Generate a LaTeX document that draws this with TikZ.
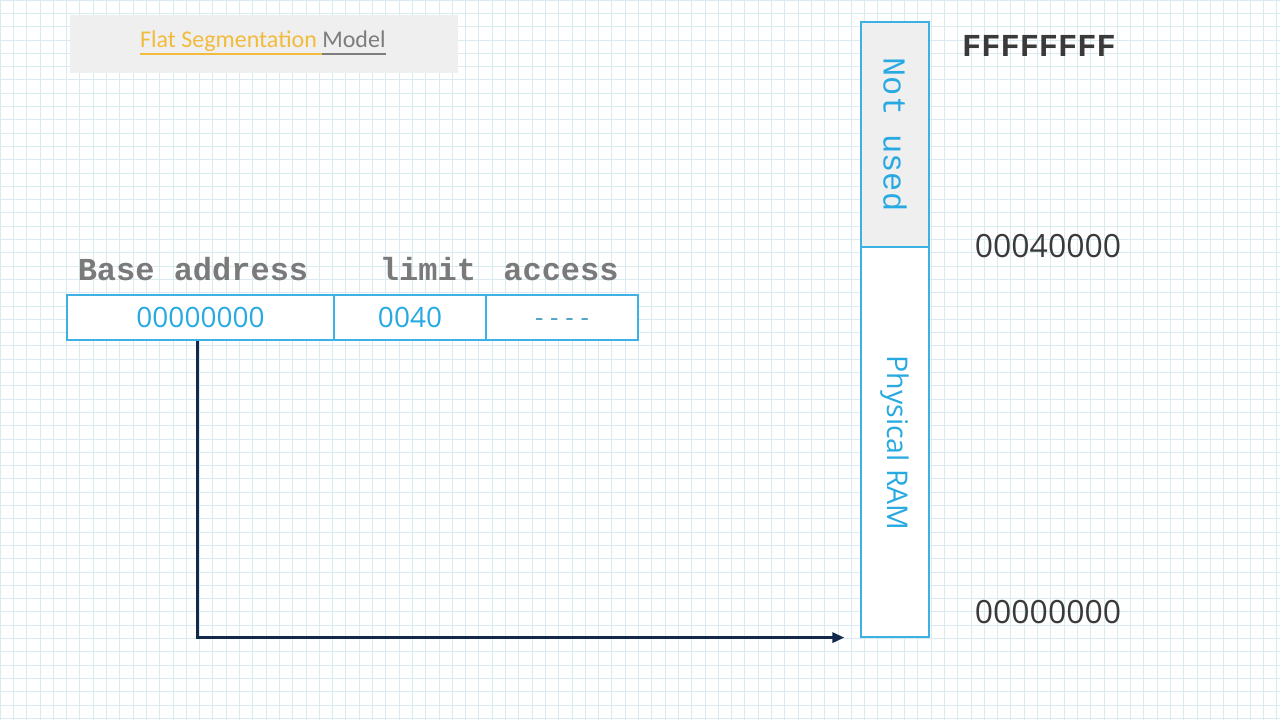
\documentclass[tikz,border=0pt]{standalone}
\usepackage{fontspec}
\setmainfont{Open Sans}
\newfontfamily\typefont{Liberation Mono}
\newfontfamily\titlefont{Carlito}
\usepackage{tikz}
\usetikzlibrary{arrows.meta}

\definecolor{gridblue}{HTML}{D9EAF1}
\definecolor{cellblue}{HTML}{3DB1E3}
\definecolor{textblue}{HTML}{27A9E1}
\definecolor{headgray}{HTML}{7A7A7A}
\definecolor{darkgray}{HTML}{3A3A3A}
\definecolor{titleyellow}{HTML}{F2BB3C}
\definecolor{titlegray}{HTML}{7D7D7D}
\definecolor{boxgray}{HTML}{EFEFEF}
\definecolor{navy}{HTML}{13294B}

\tikzset{
  cell/.style={draw=cellblue,line width=1.2pt,fill=white,minimum height=45pt,inner sep=0pt,
    text=textblue,font={\fontsize{28}{32}\selectfont}},
  head/.style={anchor=base,text=headgray,font={\typefont\bfseries\fontsize{32}{36}\selectfont}},
  addr/.style={text=darkgray,font={\fontsize{32}{36}\selectfont}},
  ramcell/.style={draw=cellblue,line width=1.2pt,minimum width=68pt,inner sep=0pt},
  titletext/.style={anchor=base west,inner sep=0pt,font={\titlefont\fontsize{24}{28}\selectfont}},
  link/.style={navy,line width=3pt,-{Triangle[length=12pt,width=10pt]}}
}

\begin{document}
\begin{tikzpicture}[x=1pt,y=-1pt]
\useasboundingbox (0,0) rectangle (1280,720);
\fill[white] (0,0) rectangle (1280,720);
\draw[gridblue,line width=0.7pt,step=13.3pt] (0,0) grid (1280,720);

% title
\fill[boxgray] (70,15) rectangle (458,73);
\node[titletext,text=titleyellow] (flat) at (140,47) {Flat Segmentation};
\coordinate (gap) at ([xshift=5pt]flat.base east);
\node[titletext,text=titlegray] (model) at (gap) {Model};
\draw[titleyellow,line width=2pt] ([yshift=-7pt]flat.base west) -- ([yshift=-7pt]gap);
\draw[titlegray,line width=2pt] ([yshift=-7pt]model.base west) -- ([yshift=-7pt]model.base east);

% descriptor
\node[head] (hbase) at (193,280) {Base address};
\node[head] (hlimit) at (428,280) {limit};
\node[head] (haccess) at (561,280) {access};
\node[cell,minimum width=267pt] (base) at (200.5,317.5) {00000000};
\node[cell,minimum width=152pt] (limit) at (410,317.5) {0040};
\node[cell,minimum width=152pt] (access) at (562,317.5) {};
\node[text=cellblue!70!gray,font={\fontsize{26}{30}\selectfont}] at ([yshift=-5pt]access) {- - - -};

% memory
\node[ramcell,minimum height=225pt,fill=boxgray] (notused) at (895,134.5) {};
\node[ramcell,minimum height=390pt,fill=white] (ram) at (895,442) {};
\node[rotate=-90,text=textblue,font={\typefont\fontsize{32}{36}\selectfont}] at (notused) {Not used};
\node[rotate=-90,text=textblue,font={\fontsize{28.5}{32}\selectfont}] at (895,443) {Physical RAM};
\node[text=darkgray,font={\typefont\bfseries\fontsize{32}{36}\selectfont}] (top) at (1039,46) {FFFFFFFF};
\node[addr] (mid) at (1048,246) {00040000};
\node[addr] (bottom) at (1048,612) {00000000};

\coordinate (tip) at ([xshift=-16pt]ram.south west);
\draw[link] ([xshift=-3.5pt]base.south) |- (tip);
\end{tikzpicture}
\end{document}
